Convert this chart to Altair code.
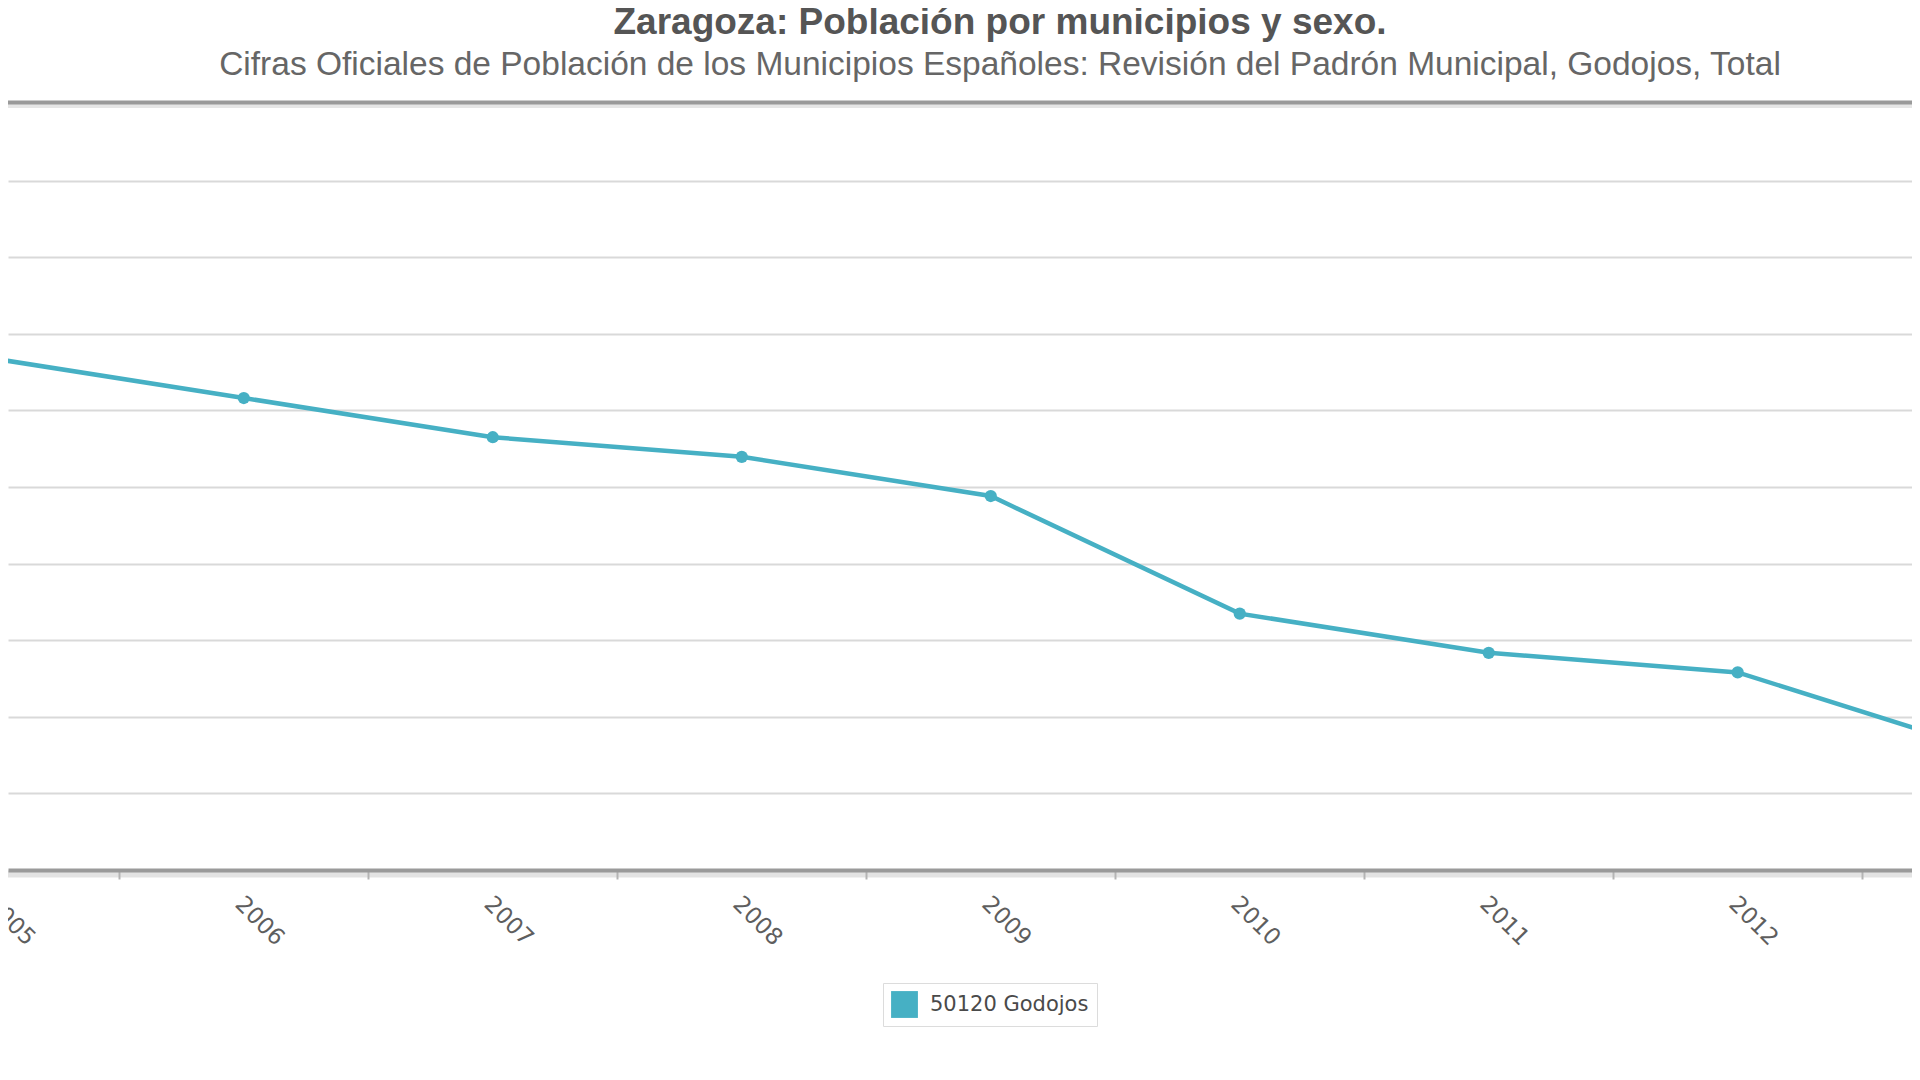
import altair as alt
import pandas as pd

# ---- data ----
YEARS = [2005, 2006, 2007, 2008, 2009, 2010, 2011, 2012, 2013]
POBLACION = [60, 58, 56, 55, 53, 47, 45, 44, 40]
YEAR_LABELS = ["2005", "2006", "2007", "2008", "2009", "2010", "2011", "2012", "2013"]
SERIE = "50120 Godojos"

# visible window of the (zoomed) chart and its axis ticks
X_DOMAIN = [2005.053, 2012.70]
X_TICKS = [2005.5, 2006.5, 2007.5, 2008.5, 2009.5, 2010.5, 2011.5, 2012.5]
Y_DOMAIN = [33.92, 73.0]
Y_GRID = [37.83, 41.74, 45.65, 49.55, 53.46, 57.37, 61.28, 65.19, 69.09]

TITLE = "Zaragoza: Población por municipios y sexo."
SUBTITLE = ("Cifras Oficiales de Población de los Municipios Españoles: "
            "Revisión del Padrón Municipal, Godojos, Total")

W, H = 1904, 766
COLOR = "#46b0c4"

df = pd.DataFrame({"anio": YEARS, "poblacion": POBLACION, "serie": SERIE})
lab_df = pd.DataFrame({"anio": YEARS, "label": YEAR_LABELS})
one = pd.DataFrame({"k": [0]})

xs = alt.Scale(domain=X_DOMAIN, nice=False, zero=False)
ys = alt.Scale(domain=Y_DOMAIN, nice=False, zero=False)

x_axis = alt.Axis(values=X_TICKS, labels=False, ticks=True, tickSize=9,
                  tickWidth=2, tickColor="#b4b4b4", domainColor="#9a9a9a",
                  domainWidth=4, grid=False, title=None, zindex=1)
y_axis = alt.Axis(values=Y_GRID, labels=False, ticks=False, domain=False,
                  grid=True, gridColor="#d9d9d9", gridWidth=2, title=None)


def X(field=None, datum=None):
    if datum is not None:
        return alt.X(datum=datum, type="quantitative", scale=xs, axis=x_axis)
    return alt.X(field, type="quantitative", scale=xs, axis=x_axis)


def Y(field=None, datum=None):
    if datum is not None:
        return alt.Y(datum=datum, type="quantitative", scale=ys, axis=y_axis)
    return alt.Y(field, type="quantitative", scale=ys, axis=y_axis)


line = alt.Chart(df).mark_line(color=COLOR, strokeWidth=4.5, clip=True).encode(
    x=X("anio"), y=Y("poblacion"))

points = alt.Chart(df).mark_circle(size=150, opacity=1, clip=True).encode(
    x=X("anio"), y=Y("poblacion"),
    color=alt.Color("serie:N", scale=alt.Scale(range=[COLOR]),
                    legend=alt.Legend(orient="none", legendX=875, legendY=879,
                                      title=None, symbolType="square",
                                      symbolSize=720, symbolStrokeWidth=0,
                                      labelFont="DejaVu Sans", labelFontSize=21,
                                      labelColor="#4a4a4a", labelOffset=12,
                                      strokeColor="#dcdcdc", padding=8)))

bottom_band = alt.Chart(one).mark_rule(color="#e3e3e3", strokeWidth=7,
                                       yOffset=4).encode(y=Y(datum=Y_DOMAIN[0]))
top_band = alt.Chart(one).mark_rule(color="#e6e6e6", strokeWidth=4,
                                    yOffset=2).encode(y=Y(datum=Y_DOMAIN[1]))
top_line = alt.Chart(one).mark_rule(color="#9a9a9a", strokeWidth=4,
                                    yOffset=-1.5).encode(y=Y(datum=Y_DOMAIN[1]))

labels = alt.Chart(lab_df).mark_text(
    align="left", baseline="top", angle=45, font="DejaVu Sans", fontSize=23,
    color="#5e5e5e", dx=4).encode(
    x=X("anio"), y=alt.value(H + 20), text="label:N")

chart = alt.layer(
    line, bottom_band, top_band, top_line, points, labels
).properties(
    width=W, height=H,
    title=alt.TitleParams(
        text=TITLE, subtitle=SUBTITLE, anchor="middle", dx=40,
        font="Liberation Sans", fontSize=37, fontWeight="bold", color="#555555",
        subtitleFont="Liberation Sans", subtitleFontSize=33.5,
        subtitleColor="#666666", subtitlePadding=7, offset=18),
    autosize=alt.AutoSizeParams(type="none"),
    padding={"left": 0, "top": 96, "right": 0, "bottom": 171},
).configure_view(strokeWidth=0)

chart.save("out.html", embed_options={"renderer": "svg", "actions": False})
